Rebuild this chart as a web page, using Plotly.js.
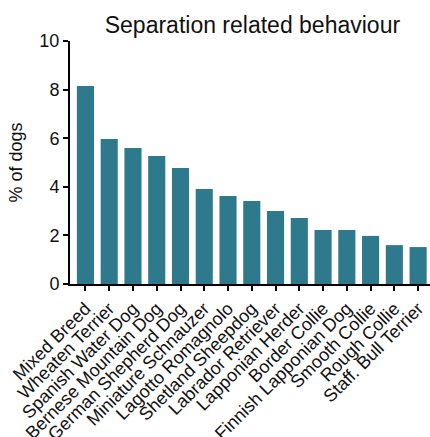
<!DOCTYPE html>
<html>
<head>
<meta charset="utf-8">
<script src="https://cdn.plot.ly/plotly-3.0.1.min.js"></script>
<style>html,body{margin:0;padding:0;background:#fff;}#chart{width:430px;height:437px;}</style>
</head>
<body>
<div id="chart"></div>
<script>
const breeds = ["Mixed Breed","Wheaten Terrier","Spanish Water Dog","Bernese Mountain Dog","German Shepherd Dog","Miniature Schnauzer","Lagotto Romagnolo","Shetland Sheepdog","Labrador Retriever","Lapponian Herder","Border Collie","Finnish Lapponian Dog","Smooth Collie","Rough Collie","Staff. Bull Terrier"];
const percentDogs = [8.15, 5.97, 5.6, 5.27, 4.77, 3.91, 3.62, 3.42, 3.0, 2.72, 2.22, 2.22, 1.98, 1.6, 1.52];
const yTicks = [0, 2, 4, 6, 8, 10];

const font = "Liberation Sans, Arial, sans-serif";
Plotly.newPlot("chart", [{
  type: "bar",
  x: breeds,
  y: percentDogs,
  marker: {color: "#2e7a8c"},
  hoverinfo: "skip"
}], {
  width: 430, height: 437,
  margin: {l: 70, r: 0, t: 41, b: 153, pad: 0},
  bargap: 0.28,
  showlegend: false,
  paper_bgcolor: "#fff", plot_bgcolor: "#fff",
  title: {text: "Separation related behaviour", font: {family: font, size: 23, color: "#111"}, x: 0.587, xanchor: "center", y: 0.943, yanchor: "middle"},
  xaxis: {
    range: [-0.65, 14.5], automargin: false,
    showline: true, linecolor: "#000", linewidth: 2,
    ticks: "outside", ticklen: 5, tickwidth: 2, tickcolor: "#000",
    tickangle: -45, tickfont: {family: font, size: 18, color: "#111"},
    showgrid: false, zeroline: false, fixedrange: true
  },
  yaxis: {
    range: [0, 10], tickvals: yTicks, automargin: false,
    showline: true, linecolor: "#000", linewidth: 2,
    ticks: "outside", ticklen: 5, tickwidth: 2, tickcolor: "#000",
    tickfont: {family: font, size: 18, color: "#111"},
    title: {text: "% of dogs", font: {family: font, size: 18, color: "#111"}, standoff: 12},
    showgrid: false, zeroline: false, fixedrange: true
  }
}, {displayModeBar: false, staticPlot: true});
</script>
</body>
</html>
